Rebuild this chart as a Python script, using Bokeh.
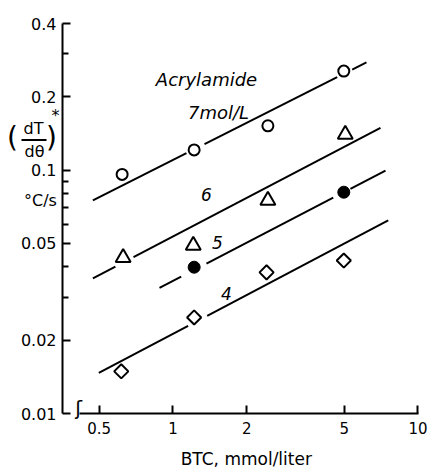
import math
from bokeh.plotting import figure
from bokeh.models import Range1d, FixedTicker, CustomJSTickFormatter, ColumnDataSource
from bokeh.core.properties import value
from bokeh.embed import file_html
from bokeh.resources import INLINE

# ---- data ----
btc_7 = [0.62, 1.22, 2.44, 4.98]
rate_7 = [0.0960, 0.121, 0.152, 0.255]
btc_6 = [0.626, 1.21, 2.44, 5.05]
rate_6 = [0.0437, 0.0490, 0.0750, 0.140]
btc_5 = [1.22, 4.98]
rate_5 = [0.0399, 0.0811]
btc_4 = [0.615, 1.22, 2.41, 4.98]
rate_4 = [0.0149, 0.0248, 0.0380, 0.0425]

# fitted lines: end points and gaps (BTC values)
fit7_x = [0.471, 6.16]
fit7_y = [0.0750, 0.277]
gaps7 = [(1.135, 1.345), (4.68, 5.39)]
fit6_x = [0.471, 7.03]
fit6_y = [0.0359, 0.149]
gaps6 = [(0.582, 0.690)]
fit5_x = [0.881, 7.37]
fit5_y = [0.0328, 0.0995]
gaps5 = [(1.080, 1.370), (4.51, 5.30)]
fit4_x = [0.498, 7.56]
fit4_y = [0.01469, 0.0621]
gaps4 = [(1.153, 1.379)]

x_ticks = [0.5, 1, 2, 5, 10]
y_ticks = [0.01, 0.02, 0.05, 0.1, 0.2, 0.4]
y_minor = [0.03, 0.04, 0.06, 0.07, 0.08, 0.09, 0.3]

AX0, AX1 = 0.354, 10.05     # x axis extent (y axis sits at AX0)
XB0 = 0.415                 # x axis line starts after the break mark
AY0, AY1 = 0.01, 0.4        # y axis extent
W, H = 432, 467
# where the axes sit in the picture (pixels)
PX_L, PX_R, PX_T, PX_B = 62, 418, 23, 413

# whole canvas is the plot frame; axes are fixed inside it
lx_per_px = (math.log10(AX1) - math.log10(AX0)) / (PX_R - PX_L)
ly_per_px = (math.log10(AY1) - math.log10(AY0)) / (PX_B - PX_T)
X0 = 10 ** (math.log10(AX0) - PX_L * lx_per_px)
X1 = 10 ** (math.log10(AX1) + (W - PX_R) * lx_per_px)
Y0 = 10 ** (math.log10(AY0) - (H - PX_B) * ly_per_px)
Y1 = 10 ** (math.log10(AY1) + PX_T * ly_per_px)

p = figure(width=W, height=H, x_axis_type="log", y_axis_type="log",
           x_range=Range1d(X0, X1), y_range=Range1d(Y0, Y1),
           output_backend="svg", toolbar_location=None,
           min_border_left=0, min_border_right=0,
           min_border_top=0, min_border_bottom=0)
p.outline_line_color = None
p.xgrid.visible = False
p.ygrid.visible = False

FONT = "DejaVu Sans"
fmt = CustomJSTickFormatter(code="return tick.toString();")

xa = p.xaxis[0]
xa.fixed_location = AY0
xa.bounds = (XB0, AX1)
xa.ticker = FixedTicker(ticks=x_ticks, minor_ticks=[])
xa.formatter = fmt
xa.major_tick_in = 8
xa.major_tick_out = 0
xa.minor_tick_in = 0
xa.minor_tick_out = 0
xa.axis_line_width = 2
xa.major_tick_line_width = 2
xa.major_label_text_font = FONT
xa.major_label_text_font_size = "15px"
xa.major_label_text_color = "black"
xa.major_label_standoff = 8
xa.axis_label = "BTC,  mmol/liter"
xa.axis_label_text_font = FONT
xa.axis_label_text_font_size = "17px"
xa.axis_label_text_font_style = "normal"
xa.axis_label_text_color = "black"
xa.axis_label_standoff = 12

ya = p.yaxis[0]
ya.fixed_location = AX0
ya.bounds = (AY0, AY1)
ya.ticker = FixedTicker(ticks=y_ticks, minor_ticks=y_minor)
ya.formatter = fmt
ya.major_tick_in = 8
ya.major_tick_out = 0
ya.minor_tick_in = 6
ya.minor_tick_out = 0
ya.axis_line_width = 2
ya.major_tick_line_width = 2
ya.minor_tick_line_width = 2
ya.major_label_text_font = FONT
ya.major_label_text_font_size = "16px"
ya.major_label_text_color = "black"
ya.major_label_standoff = 6

# ---- fitted lines with gaps ----
def segments(fx, fy, gaps):
    lx0, lx1 = math.log10(fx[0]), math.log10(fx[1])
    ly0, ly1 = math.log10(fy[0]), math.log10(fy[1])
    def yat(x):
        t = (math.log10(x) - lx0) / (lx1 - lx0)
        return 10 ** (ly0 + t * (ly1 - ly0))
    bounds = [fx[0]]
    for a, b in gaps:
        bounds += [a, b]
    bounds.append(fx[1])
    xs, ys = [], []
    for i in range(0, len(bounds), 2):
        xs.append([bounds[i], bounds[i + 1]])
        ys.append([yat(bounds[i]), yat(bounds[i + 1])])
    return xs, ys

for fx, fy, g in [(fit7_x, fit7_y, gaps7), (fit6_x, fit6_y, gaps6),
                  (fit5_x, fit5_y, gaps5), (fit4_x, fit4_y, gaps4)]:
    xs, ys = segments(fx, fy, g)
    p.multi_line(xs, ys, line_color="black", line_width=2)

# ---- markers ----
p.scatter(btc_7, rate_7, marker="circle", size=11, fill_color="white",
          line_color="black", line_width=2)
p.scatter(btc_6, rate_6, marker="triangle", size=15, fill_color="white",
          line_color="black", line_width=2)
p.scatter(btc_5, rate_5, marker="circle", size=12, fill_color="black",
          line_color="black", line_width=1)
p.scatter(btc_4, rate_4, marker="square", angle=math.pi / 4, size=10,
          fill_color="white", line_color="black", line_width=2)

# ---- annotations (positioned in picture pixels -> data) ----
def at(px, py):
    return (10 ** (math.log10(X0) + px * lx_per_px),
            10 ** (math.log10(Y1) - py * ly_per_px))

txt = dict(x=[], y=[], text=[], size=[], style=[])
def lab(text, px, py, size, style="normal"):
    x, y = at(px, py)
    txt["x"].append(x); txt["y"].append(y); txt["text"].append(text)
    txt["size"].append(size); txt["style"].append(style)

lab("Acrylamide", 206, 79, "18px", "italic")
lab("7mol/L", 218, 112, "18px", "italic")
lab("6", 206, 194, "17px", "italic")
lab("5", 217, 242, "17px", "italic")
lab("4", 226, 293, "17px", "italic")
lab("ʃ", 78, 407, "20px")
# y-axis title
lab("(", 12, 137, "28px")
lab("dT", 33, 128, "16px")
lab("dθ", 34, 151, "16px")
lab(")", 51, 137, "28px")
lab("*", 55, 115, "16px")
lab("°C/s", 40, 200, "16px")

p.text(x="x", y="y", text="text", source=ColumnDataSource(txt),
       text_font=value(FONT), text_font_size="size", text_font_style="style",
       text_align="center", text_baseline="middle", text_color="black")

bx0, by0 = at(21, 139.5)
bx1, by1 = at(46, 139.5)
p.segment(x0=[bx0], y0=[by0], x1=[bx1], y1=[by1],
          line_color="black", line_width=2)

open("out.html", "w").write(file_html(p, INLINE))
